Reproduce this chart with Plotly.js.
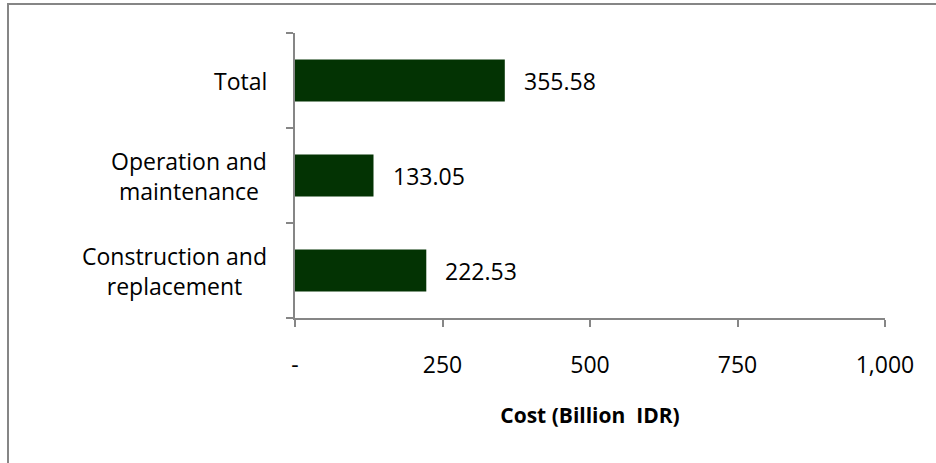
<!DOCTYPE html>
<html>
<head>
<meta charset="utf-8">
<script src="https://cdn.plot.ly/plotly-3.0.1.min.js"></script>
<style>
html, body { margin: 0; padding: 0; background: #ffffff; }
#chart { width: 936px; height: 463px; }
</style>
</head>
<body>
<div id="chart"></div>
<script>
// Data
var categories = ["Construction and replacement", "Operation and maintenance", "Total"];
var categoryLabels = ["Construction and<br>replacement", "Operation and<br>maintenance", "Total"];
var costs = [222.53, 133.05, 355.58];
var valueLabels = ["222.53", "133.05", "355.58"];
var xTickVals = [0, 250, 500, 750, 1000];
var xTickText = ["-", "250", "500", "750", "1,000"];

var FONT = "Open Sans, Lato, sans-serif";
var GRAY = "#868686";

var trace = {
  type: "bar",
  orientation: "h",
  y: categories,
  x: costs,
  marker: { color: "#033303", line: { width: 0 } },
  width: 0.44,
  hoverinfo: "none"
};

var annotations = [];
for (var i = 0; i < categories.length; i++) {
  annotations.push({
    xref: "paper", yref: "y",
    x: 0, y: categories[i],
    xanchor: "right", yanchor: "middle",
    xshift: -26,
    align: "center",
    text: categoryLabels[i],
    showarrow: false,
    font: { family: FONT, size: 23, color: "#000000" }
  });
  annotations.push({
    xref: "x", yref: "y",
    x: costs[i], y: categories[i],
    xanchor: "left", yanchor: "middle",
    xshift: 17,
    text: valueLabels[i],
    showarrow: false,
    font: { family: FONT, size: 23, color: "#000000" }
  });
}

var layout = {
  width: 936,
  height: 463,
  margin: { l: 295, r: 51, t: 33, b: 145 },
  paper_bgcolor: "#ffffff",
  plot_bgcolor: "#ffffff",
  showlegend: false,
  font: { family: FONT, size: 23, color: "#000000" },
  xaxis: {
    range: [0, 1000],
    tickvals: xTickVals,
    ticktext: xTickText,
    ticks: "outside",
    ticklen: 7,
    tickwidth: 2,
    tickcolor: GRAY,
    showline: true,
    linecolor: GRAY,
    linewidth: 2,
    showgrid: false,
    zeroline: false,
    ticklabelstandoff: 18,
    tickfont: { family: FONT, size: 23, color: "#000000" },
    title: {
      text: "Cost (Billion\u00A0 IDR)",
      font: { family: FONT, size: 21, color: "#000000", weight: "bold" },
      standoff: 30
    },
    fixedrange: true
  },
  yaxis: {
    type: "category",
    categoryorder: "array",
    categoryarray: categories,
    range: [-0.5, 2.5],
    showticklabels: false,
    ticks: "outside",
    tickson: "boundaries",
    ticklen: 7,
    tickwidth: 2,
    tickcolor: GRAY,
    showline: true,
    linecolor: GRAY,
    linewidth: 2,
    showgrid: false,
    zeroline: false,
    fixedrange: true
  },
  annotations: annotations,
  shapes: [{
    type: "rect",
    xref: "paper", yref: "paper",
    x0: (8 - 295) / 590, x1: (960 - 295) / 590,
    y0: (318 - 490) / 285, y1: (318 - 4) / 285,
    line: { color: GRAY, width: 2 },
    fillcolor: "rgba(0,0,0,0)",
    layer: "below"
  }]
};

Plotly.newPlot("chart", [trace], layout, { displayModeBar: false, staticPlot: true });
</script>
</body>
</html>
